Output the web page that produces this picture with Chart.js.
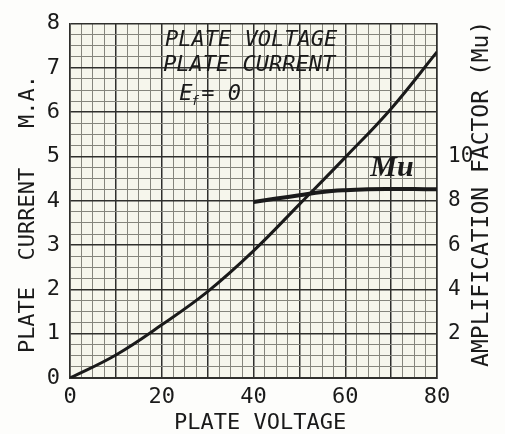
<!DOCTYPE html>
<html><head><meta charset="utf-8">
<script src="https://cdn.jsdelivr.net/npm/chart.js@4/dist/chart.umd.min.js"></script>
<style>html,body{margin:0;padding:0;background:#fdfdfb;}</style>
</head><body>
<canvas id="c" width="505" height="434"></canvas>
<script>
// ---- data ----
const plateVoltage = [0, 10, 20, 30, 40, 50, 60, 70, 80];
const plateCurrent = [0, 0.52, 1.2, 1.95, 2.87, 3.92, 4.98, 6.08, 7.36];
const muVoltage = [40, 45, 50, 55, 60, 65, 70, 75, 80];
const muValues = [7.95, 8.1, 8.25, 8.4, 8.48, 8.52, 8.53, 8.53, 8.52];
const xTickLabels = [0, 20, 40, 60, 80];
const currentTickLabels = [0, 1, 2, 3, 4, 5, 6, 7, 8];
const muTickLabels = [2, 4, 6, 8, 10];
const muAxisTitle = 'AMPLIFICATION FACTOR (Mu)';

const INK = '#1a1a1a';
const MAJOR = '#2f2f2c';
const MINOR = '#85857c';
const MONO = '"DejaVu Sans Mono", "Liberation Mono", monospace';

const paper = {
  id: 'paper',
  beforeDraw(chart) {
    const {ctx, chartArea: a} = chart;
    ctx.save();
    ctx.fillStyle = '#f6f6ec';
    ctx.fillRect(a.left, a.top, a.right - a.left, a.bottom - a.top);
    ctx.restore();
  }
};

const notes = {
  id: 'notes',
  afterDraw(chart) {
    const {ctx} = chart;
    const x = chart.scales.x, y = chart.scales.y, r = chart.scales.y1;
    ctx.save();
    ctx.fillStyle = INK;
    ctx.textBaseline = 'middle';
    ctx.textAlign = 'left';
    ctx.font = 'italic 22px ' + MONO;
    ctx.fillText('PLATE VOLTAGE', x.getPixelForValue(20.7), y.getPixelForValue(7.63));
    ctx.fillText('PLATE CURRENT', x.getPixelForValue(20.3), y.getPixelForValue(7.05));
    const ex = x.getPixelForValue(23.8), ey = y.getPixelForValue(6.4);
    ctx.fillText('E', ex, ey);
    ctx.font = 'italic 13px ' + MONO;
    ctx.fillText('f', ex + 12, ey + 7);
    ctx.font = 'italic 22px ' + MONO;
    ctx.fillText('= 0', ex + 22, ey);
    ctx.font = 'italic bold 30px "Liberation Serif", "DejaVu Serif", serif';
    ctx.textAlign = 'center';
    ctx.fillText('Mu', x.getPixelForValue(70.2), y.getPixelForValue(4.73));
    // right axis title, reading bottom-to-top like the reference
    ctx.font = '23px ' + MONO;
    ctx.translate(r.right - 23, (r.top + r.bottom) / 2 - 7);
    ctx.rotate(-Math.PI / 2);
    ctx.fillText(muAxisTitle, 0, 0);
    ctx.restore();
  }
};

const isMult = (v, m) => Math.abs(v / m - Math.round(v / m)) < 1e-6;
const gridColor = c => (c.tick && isMult(c.tick.value, 10)) ? MAJOR : MINOR;
const gridWidth = c => (c.tick && isMult(c.tick.value, 10)) ? 1.5 : 1;
const yGridColor = c => (c.tick && isMult(c.tick.value, 1)) ? MAJOR : MINOR;
const yGridWidth = c => (c.tick && isMult(c.tick.value, 1)) ? 1.5 : 1;

new Chart(document.getElementById('c'), {
  type: 'line',
  data: {
    datasets: [
      {
        label: 'Plate current',
        data: plateVoltage.map((v, i) => ({x: v, y: plateCurrent[i]})),
        borderColor: INK, borderWidth: 3, pointRadius: 0,
        tension: 0.4, yAxisID: 'y'
      },
      {
        label: 'Mu',
        data: muVoltage.map((v, i) => ({x: v, y: muValues[i]})),
        borderColor: INK, borderWidth: 4, pointRadius: 0,
        tension: 0.4, yAxisID: 'y1'
      }
    ]
  },
  options: {
    responsive: false,
    animation: false,
    layout: {padding: {top: 14, left: 0, right: 0, bottom: 0}},
    plugins: {legend: {display: false}, tooltip: {enabled: false}},
    scales: {
      x: {
        type: 'linear', min: 0, max: 80,
        afterFit: s => { s.height = 56; },
        ticks: {
          stepSize: 2.5, autoSkip: false, maxRotation: 0, padding: 6,
          color: INK, font: {family: MONO, size: 22, lineHeight: 1.2},
          callback: v => xTickLabels.includes(v) ? String(v) : ''
        },
        grid: {color: gridColor, lineWidth: gridWidth, drawTicks: false},
        border: {display: true, color: MAJOR, width: 2},
        title: {display: true, text: ' PLATE VOLTAGE', color: INK,
          font: {family: MONO, size: 22, lineHeight: 1}, padding: {top: 0, bottom: 0}}
      },
      y: {
        type: 'linear', position: 'left', min: 0, max: 8,
        afterFit: s => { s.width = 70; },
        ticks: {
          stepSize: 0.25, autoSkip: false, padding: 10,
          color: INK, font: {family: MONO, size: 22, lineHeight: 1.2},
          callback: v => currentTickLabels.includes(v) ? String(v) : ''
        },
        grid: {color: yGridColor, lineWidth: yGridWidth, drawTicks: false},
        border: {display: true, color: MAJOR, width: 1.5},
        title: {display: true, text: 'PLATE  CURRENT   M.A.  ', color: INK,
          font: {family: MONO, size: 22, lineHeight: 1}, padding: {top: 17, bottom: 0}}
      },
      y1: {
        type: 'linear', position: 'right', min: 0, max: 16,
        afterFit: s => { s.width = 68; },
        ticks: {
          stepSize: 2, autoSkip: false, padding: 11,
          color: INK, font: {family: MONO, size: 21, lineHeight: 1.2},
          callback: v => muTickLabels.includes(v) ? String(v) : ''
        },
        grid: {display: false, drawTicks: false},
        border: {display: true, color: MAJOR, width: 1.5},
        title: {display: false}
      }
    }
  },
  plugins: [paper, notes]
});
</script>
</body></html>
